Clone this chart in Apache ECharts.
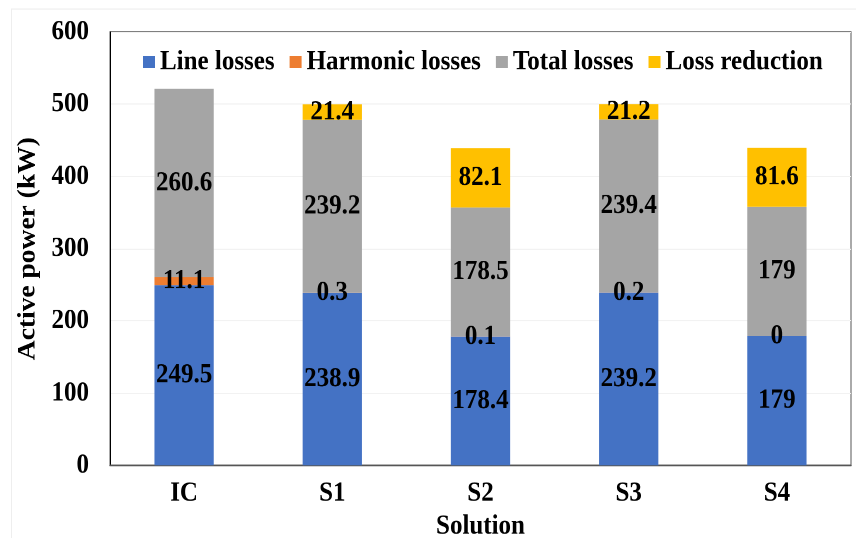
<!DOCTYPE html>
<html>
<head>
<meta charset="utf-8">
<script src="https://cdn.jsdelivr.net/npm/echarts@6/dist/echarts.min.js"></script>
<style>
  html, body { margin: 0; padding: 0; background: #ffffff; overflow: hidden; }
  #wrap { width: 856px; height: 538px; overflow: hidden; }
  /* the figure is drawn a little shorter and stretched to full height,
     which gives its lettering a taller look */
  #chart { width: 856px; height: 489px; transform: scaleY(1.1002); transform-origin: 0 0; }
</style>
</head>
<body>
<div id="wrap"><div id="chart"></div></div>
<script>
// Solutions on the x axis
const solutions = ['IC', 'S1', 'S2', 'S3', 'S4'];
// Active power losses per solution (kW)
const lineLosses = [249.5, 238.9, 178.4, 239.2, 179];
const harmonicLosses = [11.1, 0.3, 0.1, 0.2, 0];
const totalLosses = [260.6, 239.2, 178.5, 239.4, 179];
const lossReduction = [null, 21.4, 82.1, 21.2, 81.6];
// Value axis ticks
const yTicks = { min: 0, max: 600, step: 100 };

const FONT = '"Liberation Serif", "Times New Roman", serif';
const FS = 25;

function stackSeries(name, data, color) {
  return {
    name: name,
    type: 'bar',
    stack: 'power',
    barWidth: '40%',
    data: data,
    itemStyle: { color: color },
    label: {
      show: true,
      position: 'inside',
      color: '#000000',
      fontFamily: FONT,
      fontWeight: 'bold',
      fontSize: FS,
      formatter: p => (p.value === null || p.value === undefined) ? '' : String(p.value)
    },
    emphasis: { disabled: true }
  };
}

const chart = echarts.init(document.getElementById('chart'), null,
  { renderer: 'canvas', devicePixelRatio: 2, width: 856, height: 489 });
chart.setOption({
  animation: false,
  backgroundColor: '#ffffff',
  textStyle: { fontFamily: FONT },
  graphic: [{
    type: 'rect',
    shape: { x: 11.5, y: 8.2, width: 860, height: 500 },
    style: { fill: 'none', stroke: '#eeeeee', lineWidth: 1 },
    silent: true
  }],
  legend: {
    left: 138,
    top: 39,
    itemWidth: 12,
    itemHeight: 11,
    itemGap: 15,
    icon: 'rect',
    textStyle: { fontFamily: FONT, fontWeight: 'bold', fontSize: FS, color: '#000000' },
    data: ['Line losses', 'Harmonic losses', 'Total losses', 'Loss reduction']
  },
  grid: {
    left: 110, right: 5, top: 29, bottom: 66,
    outerBoundsMode: 'none',
    containLabel: false,
    show: true, borderColor: '#555555', borderWidth: 1
  },
  xAxis: {
    type: 'category',
    data: solutions,
    name: 'Solution',
    nameLocation: 'middle',
    nameGap: 36,
    nameTextStyle: { fontFamily: FONT, fontWeight: 'bold', fontSize: FS, color: '#000000' },
    axisLine: { lineStyle: { color: '#555555', width: 1.5 } },
    axisTick: { show: false },
    axisLabel: { margin: 13, fontFamily: FONT, fontWeight: 'bold', fontSize: FS, color: '#000000' }
  },
  yAxis: {
    type: 'value',
    min: yTicks.min,
    max: yTicks.max,
    interval: yTicks.step,
    name: 'Active power (kW)',
    nameLocation: 'middle',
    nameGap: 61,
    nameTextStyle: { fontFamily: FONT, fontWeight: 'bold', fontSize: FS, color: '#000000' },
    axisLine: { show: true, lineStyle: { color: '#000000', width: 1 } },
    axisTick: { show: false },
    splitLine: { lineStyle: { color: '#f2f2f2', width: 1 } },
    axisLabel: { margin: 21, fontFamily: FONT, fontWeight: 'bold', fontSize: FS, color: '#000000' }
  },
  series: [
    stackSeries('Line losses', lineLosses, '#4472C4'),
    stackSeries('Harmonic losses', harmonicLosses, '#ED7D31'),
    stackSeries('Total losses', totalLosses, '#A5A5A5'),
    stackSeries('Loss reduction', lossReduction, '#FFC000')
  ]
});
</script>
</body>
</html>
